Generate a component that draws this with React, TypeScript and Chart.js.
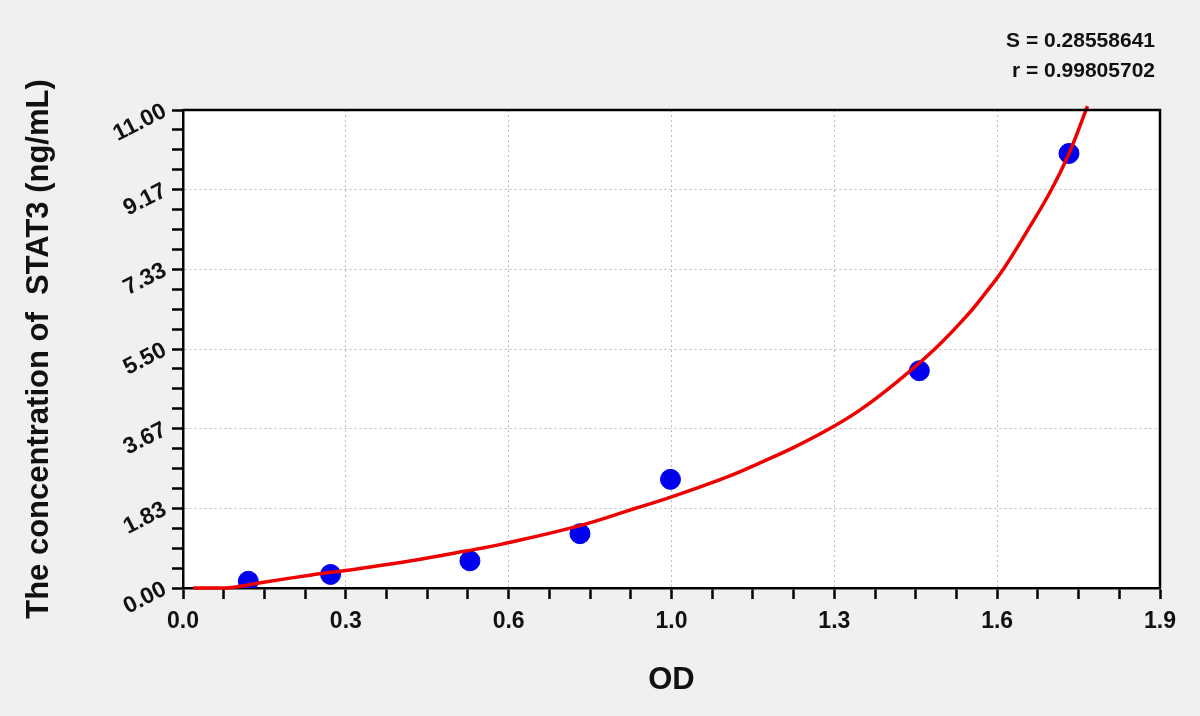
import React, { useRef, useEffect } from 'react';
import { Chart, ChartConfiguration, registerables } from 'chart.js';

Chart.register(...registerables);

// standard points (OD, concentration)
const odValues = [0.127, 0.287, 0.558, 0.772, 0.948, 1.432, 1.723];
const concValues = [0.156, 0.312, 0.625, 1.25, 2.5, 5.0, 10.0];

// fitted curve
const curveOd = [0.02, 0.085, 0.16, 0.25, 0.32, 0.45, 0.55, 0.62, 0.77, 0.879, 0.928, 0.992, 1.057, 1.122, 1.187, 1.258, 1.317, 1.388, 1.462, 1.527, 1.556, 1.595, 1.641, 1.689, 1.723, 1.759];
const curveConc = [0.0, 0.0, 0.14, 0.3, 0.41, 0.64, 0.85, 1.01, 1.43, 1.83, 2.01, 2.27, 2.55, 2.88, 3.23, 3.67, 4.1, 4.74, 5.5, 6.3, 6.72, 7.33, 8.2, 9.17, 10.0, 11.09];

const xTickLabels = ['0.0', '0.3', '0.6', '1.0', '1.3', '1.6', '1.9'];
const yTickLabels = ['0.00', '1.83', '3.67', '5.50', '7.33', '9.17', '11.00'];
const xMax = 1.9;
const yMax = 11;
const minorPerMajor = 4;

const statLines = ['S = 0.28558641', 'r = 0.99805702'];

const FONT = "'Liberation Sans', Arial, sans-serif";

const frame = {
  id: 'frame',
  beforeDraw(chart: Chart) {
    const { ctx, chartArea: a, width, height } = chart;
    ctx.save();
    ctx.fillStyle = '#f0f0f0';
    ctx.fillRect(0, 0, width, height);
    ctx.fillStyle = '#ffffff';
    ctx.fillRect(a.left, a.top, a.right - a.left, a.bottom - a.top);
    ctx.restore();
  },
  afterDraw(chart: Chart) {
    const { ctx, chartArea: a } = chart;
    ctx.save();
    ctx.strokeStyle = '#000';
    ctx.lineWidth = 2.5;
    ctx.beginPath();
    ctx.moveTo(a.left, a.top);
    ctx.lineTo(a.right, a.top);
    ctx.lineTo(a.right, a.bottom);
    ctx.stroke();
    ctx.fillStyle = '#111';
    ctx.font = `bold 21px ${FONT}`;
    ctx.textAlign = 'right';
    ctx.textBaseline = 'middle';
    statLines.forEach((s, i) => ctx.fillText(s, 1155, 41 + i * 30));
    ctx.restore();
  },
};

function buildTicks(max: number, count: number) {
  const n = (count - 1) * minorPerMajor;
  const out: { value: number }[] = [];
  for (let i = 0; i <= n; i++) out.push({ value: (max / n) * i });
  return out;
}

export default function App() {
  const canvasRef = useRef<HTMLCanvasElement>(null);
  const chartRef = useRef<Chart | null>(null);

  useEffect(() => {
    document.body.style.margin = '0';
    document.body.style.background = '#f0f0f0';
    if (!canvasRef.current) return;
    if (chartRef.current) chartRef.current.destroy();

    const gridColor = (c: any) => (c.index % minorPerMajor === 0 ? '#bdbdbd' : 'rgba(0,0,0,0)');

    const config: ChartConfiguration = {
      type: 'scatter',
      data: {
        datasets: [
          {
            data: curveOd.map((x, i) => ({ x, y: curveConc[i] })),
            showLine: true,
            borderColor: '#ee0000',
            borderWidth: 3.5,
            pointRadius: 0,
            tension: 0.4,
            clip: 8,
            order: 0,
          } as any,
          {
            data: odValues.map((x, i) => ({ x, y: concValues[i] })),
            backgroundColor: '#0000ee',
            borderColor: '#0000ee',
            pointRadius: 10,
            order: 1,
          },
        ],
      },
      options: {
        responsive: false,
        animation: false,
        layout: { padding: { top: 110, right: 40, left: 0, bottom: 0 } },
        plugins: { legend: { display: false }, tooltip: { enabled: false } },
        scales: {
          x: {
            type: 'linear',
            min: 0,
            max: xMax,
            afterBuildTicks: (s: any) => { s.ticks = buildTicks(xMax, xTickLabels.length); },
            afterFit: (s: any) => { s.height = 128; },
            grid: { color: gridColor, lineWidth: 1, tickColor: '#000', tickWidth: 2.5, tickLength: 11 },
            border: { color: '#000', width: 2.5, dash: [2, 3] },
            ticks: {
              autoSkip: false,
              maxRotation: 0,
              padding: 9,
              color: '#111',
              font: { family: FONT, size: 23, weight: 'bold' },
              callback: (_v: any, i: number) => (i % minorPerMajor === 0 ? xTickLabels[i / minorPerMajor] : ''),
            },
            title: {
              display: true,
              text: 'OD',
              color: '#111',
              font: { family: FONT, size: 31, weight: 'bold' },
              padding: { top: 0, bottom: 17 },
            },
          },
          y: {
            type: 'linear',
            min: 0,
            max: yMax,
            afterBuildTicks: (s: any) => { s.ticks = buildTicks(yMax, yTickLabels.length); },
            afterFit: (s: any) => { s.width = 183; },
            grid: { color: gridColor, lineWidth: 1, tickColor: '#000', tickWidth: 2.5, tickLength: 11 },
            border: { color: '#000', width: 2.5, dash: [2, 3] },
            ticks: {
              autoSkip: false,
              minRotation: 27,
              maxRotation: 27,
              padding: 7,
              color: '#111',
              font: { family: FONT, size: 23, weight: 'bold' },
              callback: (_v: any, i: number) => (i % minorPerMajor === 0 ? yTickLabels[i / minorPerMajor] : ''),
            },
            title: {
              display: true,
              text: 'The concentration of  STAT3 (ng/mL)',
              color: '#111',
              font: { family: FONT, size: 31, weight: 'bold' },
              padding: { top: 21, bottom: 0 },
            },
          },
        },
      },
      plugins: [frame],
    };

    chartRef.current = new Chart(canvasRef.current, config);
    return () => {
      if (chartRef.current) {
        chartRef.current.destroy();
        chartRef.current = null;
      }
    };
  }, []);

  return (
    <div style={{ width: 1200, height: 716 }}>
      <canvas ref={canvasRef} width={1200} height={716} />
    </div>
  );
}
